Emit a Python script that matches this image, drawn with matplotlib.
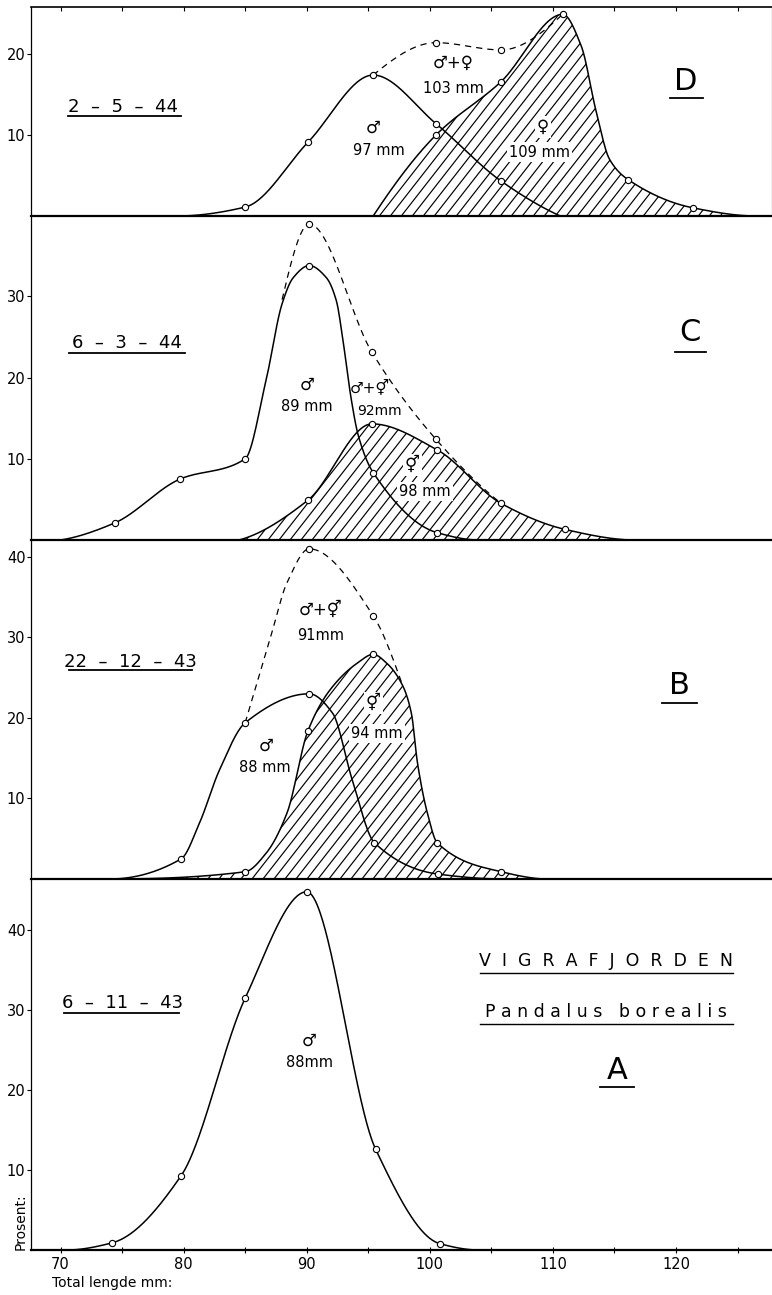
import numpy as np
import matplotlib
matplotlib.use("Agg")
import matplotlib.pyplot as plt
from matplotlib.collections import LineCollection

plt.rcParams['font.family'] = ['DejaVu Sans']

# ---- values (length mm -> percent) ----
# D  2-5-44
d_male_x = [79.5, 85.0, 90.1, 95.4, 100.5, 105.8, 110.6]
d_male_y = [0.0, 1.1, 9.1, 17.4, 11.4, 4.3, 0.0]
d_male_m = [0, 1, 1, 1, 1, 1, 0]
d_fem_x = [95.4, 100.5, 105.8, 110.8, 112.3, 113.5, 114.6, 116.1, 121.4, 126.5]
d_fem_y = [0.0, 10.0, 16.6, 24.9, 21.0, 13.0, 7.0, 4.5, 1.0, 0.0]
d_fem_m = [0, 1, 1, 1, 0, 0, 0, 1, 1, 0]
d_tot_x = [95.4, 100.5, 105.8, 110.8]
d_tot_y = [17.4, 21.4, 20.5, 24.9]
d_tot_m = [0, 1, 1, 0]

# C  6-3-44
c_male_x = [70.0, 74.4, 79.7, 85.0, 86.7, 88.0, 88.9, 90.2, 91.6, 92.4, 93.0,
            93.6, 94.2, 95.4, 100.6, 104.0]
c_male_y = [0.0, 2.1, 7.5, 10.0, 19.7, 29.1, 32.3, 33.8, 32.3, 29.5, 24.0,
            17.5, 12.8, 8.3, 0.9, 0.0]
c_male_m = [0, 1, 1, 1, 0, 0, 0, 1, 0, 0, 0, 0, 0, 1, 1, 0]
c_fem_x = [84.5, 90.1, 95.3, 100.6, 105.8, 111.0, 116.3]
c_fem_y = [0.0, 4.9, 14.3, 11.1, 4.5, 1.3, 0.0]
c_fem_m = [0, 1, 1, 1, 1, 1, 0]
c_tot_x = [88.0, 90.2, 95.3, 100.5, 105.8]
c_tot_y = [29.6, 38.9, 23.1, 12.4, 4.5]
c_tot_m = [0, 1, 1, 1, 0]

# B  22-12-43
b_male_x = [74.0, 79.8, 81.3, 82.9, 85.0, 90.2, 92.1, 93.7, 95.5, 100.7, 106.0]
b_male_y = [0.0, 2.5, 7.0, 13.5, 19.4, 23.0, 20.6, 12.3, 4.5, 0.6, 0.0]
b_male_m = [0, 1, 0, 0, 1, 1, 0, 0, 1, 1, 0]
b_fem_x = [74.0, 85.0, 86.7, 88.4, 90.1, 91.9, 94.1, 95.4, 96.5, 97.8, 98.5,
           99.0, 99.8, 100.6, 105.8, 109.2]
b_fem_y = [0.0, 0.9, 3.2, 8.2, 18.4, 23.5, 26.8, 27.9, 26.8, 24.0, 20.6,
           14.4, 8.2, 4.5, 0.9, 0.0]
b_fem_m = [0, 1, 0, 0, 1, 0, 0, 1, 0, 0, 0, 0, 0, 1, 1, 0]
b_tot_x = [85.0, 87.0, 88.4, 90.2, 95.4, 97.8]
b_tot_y = [19.4, 29.7, 36.8, 41.0, 32.7, 24.0]
b_tot_m = [0, 0, 0, 1, 1, 0]

# A  6-11-43
a_male_x = [70.5, 74.2, 79.8, 85.0, 90.0, 95.6, 100.8, 104.0]
a_male_y = [0.0, 0.9, 9.3, 31.5, 44.8, 12.6, 0.8, 0.0]
a_male_m = [0, 1, 1, 1, 1, 1, 1, 0]

x_ticks = [70, 80, 90, 100, 110, 120]
x_minor = [75, 85, 95, 105, 115, 125]


def pchip(x, y, xs):
    x = np.asarray(x, float)
    y = np.asarray(y, float)
    h = np.diff(x)
    delta = np.diff(y) / h
    n = len(x)
    d = np.zeros(n)
    for k in range(1, n - 1):
        if delta[k - 1] * delta[k] > 0:
            w1 = 2 * h[k] + h[k - 1]
            w2 = h[k] + 2 * h[k - 1]
            d[k] = (w1 + w2) / (w1 / delta[k - 1] + w2 / delta[k])

    def end(h0, h1, d0, d1):
        v = ((2 * h0 + h1) * d0 - h0 * d1) / (h0 + h1)
        if np.sign(v) != np.sign(d0):
            v = 0.0
        elif np.sign(d0) != np.sign(d1) and abs(v) > abs(3 * d0):
            v = 3 * d0
        return v
    if n > 2:
        d[0] = end(h[0], h[1], delta[0], delta[1])
        d[-1] = end(h[-1], h[-2], delta[-1], delta[-2])
    else:
        d[:] = delta[0]
    idx = np.clip(np.searchsorted(x, xs) - 1, 0, n - 2)
    t = (xs - x[idx]) / h[idx]
    h00 = 2 * t**3 - 3 * t**2 + 1
    h10 = t**3 - 2 * t**2 + t
    h01 = -2 * t**3 + 3 * t**2
    h11 = t**3 - t**2
    return h00 * y[idx] + h10 * h[idx] * d[idx] + h01 * y[idx + 1] + h11 * h[idx] * d[idx + 1]


def hatch_under(ax, xs, ys, spacing=11.0, angle=52):
    # diagonal hatching, clipped to the area under the curve
    poly = ax.fill_between(xs, 0, ys, facecolor='white', edgecolor='none', zorder=1)
    bb = ax.get_window_extent()
    x0, x1 = ax.get_xlim()
    y0, y1 = ax.get_ylim()
    px_x = bb.width / (x1 - x0)
    px_y = bb.height / (y1 - y0)
    top = max(ys)
    shift = top * px_y / (px_x * np.tan(np.radians(angle)))
    cs = np.arange(xs[0] - shift - 1, xs[-1] + 1, spacing / px_x)
    segs = [[(c, 0), (c + shift, top)] for c in cs]
    lc = LineCollection(segs, colors='black', linewidths=0.85, zorder=2)
    ax.add_collection(lc)
    lc.set_clip_path(poly.get_paths()[0], ax.transData)


def curve(ax, x, y, m, ls='-', hatch=False):
    xs = np.linspace(x[0], x[-1], 500)
    ys = pchip(x, y, xs)
    if hatch:
        hatch_under(ax, xs, ys)
    if ls == '--':
        ax.plot(xs, ys, color='black', lw=0.9, dashes=(5, 4), zorder=3)
    else:
        ax.plot(xs, ys, color='black', lw=1.1, zorder=3)
    mx = [xx for xx, mm in zip(x, m) if mm]
    my = [yy for yy, mm in zip(y, m) if mm]
    ax.plot(mx, my, 'o', ms=4.5, mfc='white', mec='black', mew=0.8, zorder=5)


def underlined(ax, x, y, s, size, x0, x1, yu, lw=1.3):
    ax.text(x, y, s, fontsize=size, ha='center', va='center', zorder=6)
    ax.plot([x0, x1], [yu, yu], color='black', lw=lw, zorder=6)


def label(ax, x, y, s, size=10.5, box=False):
    kw = {}
    if box:
        kw['bbox'] = dict(facecolor='white', edgecolor='none', pad=1.5)
    ax.text(x, y, s, fontsize=size, ha='center', va='center', zorder=6, **kw)


W, H = 772, 1295
fig = plt.figure(figsize=(W / 100, H / 100), dpi=100)

left, right = 31, 772
# (top px, baseline px, ymax)
rows = {'D': (7, 216, 25.8), 'C': (216, 540, 39.9),
        'B': (540, 879, 42.1), 'A': (879, 1250, 46.4)}
axes = {}
for key, (top, base, ymax) in rows.items():
    ax = fig.add_axes([left / W, 1 - base / H, (right - left) / W, (base - top) / H])
    ax.set_xlim(67.6, 127.8)
    ax.set_ylim(0, ymax)
    ax.patch.set_alpha(0)
    for s in ['top', 'right']:
        ax.spines[s].set_visible(False)
    ax.spines['left'].set_linewidth(0.9)
    ax.spines['bottom'].set_linewidth(1.6)
    ax.tick_params(axis='y', direction='out', length=3, width=0.8,
                   labelsize=10.5, pad=1)
    ax.set_xticks([])
    axes[key] = ax

axes['D'].spines['top'].set_visible(True)
axes['D'].spines['right'].set_visible(True)
axes['D'].spines['top'].set_linewidth(1.2)
axes['D'].spines['right'].set_linewidth(0.8)
axes['D'].set_yticks([10, 20])
axes['C'].set_yticks([10, 20, 30])
axes['B'].set_yticks([10, 20, 30, 40])
axes['A'].set_yticks([10, 20, 30, 40])

# top ticks on D
axD2 = axes['D'].secondary_xaxis('top')
axD2.set_xticks(x_ticks + x_minor)
axD2.tick_params(direction='in', length=3, width=0.8, labeltop=False)
axD2.spines['top'].set_visible(False)

axA = axes['A']
axA.set_xticks(x_ticks)
axA.set_xticks(x_minor, minor=True)
axA.tick_params(axis='x', which='both', direction='inout', length=4, width=0.8,
                labelsize=10.5, pad=3)

# ---- D ----
ax = axes['D']
curve(ax, d_fem_x, d_fem_y, d_fem_m, hatch=True)
curve(ax, d_male_x, d_male_y, d_male_m)
curve(ax, d_tot_x, d_tot_y, d_tot_m, ls='--')
underlined(ax, 75.1, 13.5, '2  –  5  –  44', 13, 70.6, 79.8, 12.4)
underlined(ax, 120.8, 16.6, 'D', 22, 119.5, 122.2, 14.6)
label(ax, 95.4, 10.9, '♂', 12)
label(ax, 95.9, 8.1, '97 mm')
label(ax, 101.9, 18.9, '♂+♀', 12)
label(ax, 101.9, 15.8, '103 mm')
label(ax, 109.2, 11.0, '♀', 12, box=True)
label(ax, 108.9, 7.9, '109 mm', box=True)

# ---- C ----
ax = axes['C']
curve(ax, c_fem_x, c_fem_y, c_fem_m, hatch=True)
curve(ax, c_male_x, c_male_y, c_male_m)
curve(ax, c_tot_x, c_tot_y, c_tot_m, ls='--')
underlined(ax, 75.4, 24.3, '6  –  3  –  44', 13, 70.7, 80.1, 23.0)
underlined(ax, 121.1, 25.6, 'C', 22, 119.9, 122.4, 23.2)
label(ax, 90.0, 19.1, '♂', 12)
label(ax, 90.0, 16.4, '89 mm')
label(ax, 95.1, 18.8, '♂+⚥', 11)
label(ax, 95.9, 15.9, '92mm', 10)
label(ax, 98.6, 9.2, '⚥', 12, box=True)
label(ax, 99.6, 6.0, '98 mm', box=True)

# ---- B ----
ax = axes['B']
curve(ax, b_fem_x, b_fem_y, b_fem_m, hatch=True)
curve(ax, b_male_x, b_male_y, b_male_m)
curve(ax, b_tot_x, b_tot_y, b_tot_m, ls='--')
underlined(ax, 75.7, 27.0, '22  –  12  –  43', 13, 70.7, 80.7, 25.9)
underlined(ax, 120.3, 24.0, 'B', 22, 118.9, 121.7, 21.9)
label(ax, 86.7, 16.6, '♂', 12)
label(ax, 86.6, 13.8, '88 mm')
label(ax, 91.1, 33.4, '♂+⚥', 12)
label(ax, 91.1, 30.3, '91mm')
label(ax, 95.4, 21.9, '⚥', 12, box=True)
label(ax, 95.7, 18.1, '94 mm', box=True)

# ---- A ----
ax = axes['A']
curve(ax, a_male_x, a_male_y, a_male_m)
underlined(ax, 75.0, 30.9, '6  –  11  –  43', 13, 70.3, 79.6, 29.7)
label(ax, 90.2, 26.2, '♂', 12)
label(ax, 90.2, 23.4, '88mm')
underlined(ax, 114.3, 36.2, 'V  I  G  R  A  F  J  O  R  D  E  N', 12.5,
           104.1, 124.6, 34.6, lw=1.0)
underlined(ax, 114.3, 29.8, 'P a n d a l u s   b o r e a l i s', 12.5,
           104.1, 124.6, 28.3, lw=1.0)
underlined(ax, 115.2, 22.5, 'A', 22, 113.8, 116.6, 20.4)

fig.text(52 / W, 1 - 1283 / H, 'Total lengde mm:', fontsize=10, ha='left', va='center')
fig.text(21 / W, 1 - 1222 / H, 'Prosent:', fontsize=10, rotation=90,
         ha='center', va='center')

fig.savefig('out.png', dpi=100)
